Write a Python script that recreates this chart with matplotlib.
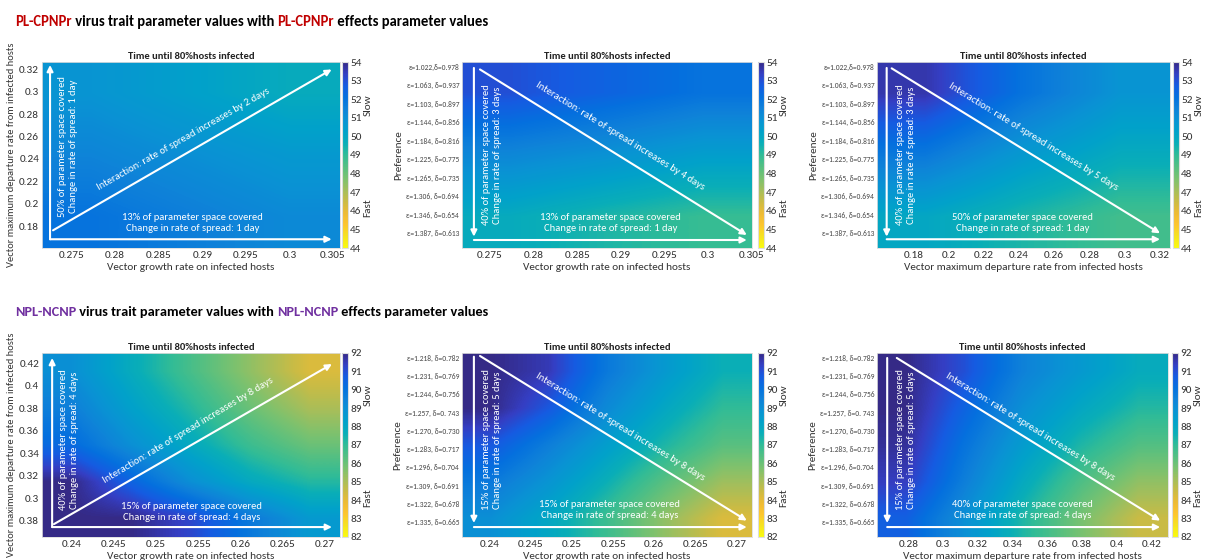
import numpy as np
import matplotlib
matplotlib.use("Agg")
from matplotlib import pyplot as plt
from matplotlib.colors import LinearSegmentedColormap
from matplotlib.transforms import offset_copy
from matplotlib import font_manager

W, H = 1208, 560

# ---- data ----
pref_top = ['ε=1.022,δ=0.978', 'ε=1.063, δ=0.937', 'ε=1.103, δ=0.897', 'ε=1.144, δ=0.856',
            'ε=1.184, δ=0.816', 'ε=1.225, δ=0.775', 'ε=1.265, δ=0.735', 'ε=1.306, δ=0.694',
            'ε=1.346, δ=0.654', 'ε=1.387, δ=0.613']
pref_bot = ['ε=1.218, δ=0.782', 'ε=1.231, δ=0.769', 'ε=1.244, δ=0.756', 'ε=1.257, δ=0. 743',
            'ε=1.270, δ=0.730', 'ε=1.283, δ=0.717', 'ε=1.296, δ=0.704', 'ε=1.309, δ=0.691',
            'ε=1.322, δ=0.678', 'ε=1.335, δ=0.665']

# axis ranges (x0, x1, y_bottom, y_top)
ext1 = [0.2716, 0.3058, 0.1604, 0.3265]
ext2 = [0.2718, 0.3050, 10.81, 0.75]
ext3 = [0.1594, 0.3257, 10.81, 0.75]
ext4 = [0.2365, 0.2718, 0.2655, 0.4290]
ext5 = [0.2366, 0.2719, 10.81, 0.75]
ext6 = [0.2620, 0.4294, 10.81, 0.75]

# time until 80% hosts infected (days), rows top -> bottom
time1 = [[50.8, 50.3, 49.8],
         [51.4, 51.0, 50.6],
         [52.0, 51.6, 51.2]]
time2 = [[53.0, 52.5, 52.0],
         [51.3, 50.9, 50.4],
         [49.8, 49.3, 48.9]]
time3 = [[53.6, 52.0, 50.8],
         [51.8, 50.6, 49.8],
         [50.0, 49.3, 48.7]]
time4 = [[89.0, 87.8, 86.6, 85.4, 84.2],
         [89.6, 88.3, 87.2, 86.0, 85.0],
         [90.3, 89.0, 87.9, 86.8, 86.0],
         [92.0, 90.5, 89.0, 87.9, 87.2],
         [92.0, 92.0, 91.2, 89.8, 88.6]]
time5 = [[92.0, 91.5, 89.8, 88.6, 87.6],
         [92.0, 90.8, 89.2, 88.0, 87.0],
         [90.8, 89.6, 88.4, 87.3, 86.3],
         [89.8, 88.8, 87.6, 86.3, 85.2],
         [89.0, 88.0, 86.8, 85.4, 84.2]]
time6 = [[92.0, 91.0, 89.5, 88.6, 87.8],
         [92.0, 90.5, 89.0, 88.0, 87.2],
         [91.8, 90.0, 88.5, 87.3, 86.4],
         [91.4, 89.6, 87.9, 86.5, 85.4],
         [90.6, 89.0, 87.3, 85.8, 84.5]]

xt1 = [0.275, 0.28, 0.285, 0.29, 0.295, 0.3, 0.305]
xt1_lab = ['0.275', '0.28', '0.285', '0.29', '0.295', '0.3', '0.305']
yt1 = [0.18, 0.2, 0.22, 0.24, 0.26, 0.28, 0.3, 0.32]
yt1_lab = ['0.18', '0.2', '0.22', '0.24', '0.26', '0.28', '0.3', '0.32']
xt3 = [0.18, 0.2, 0.22, 0.24, 0.26, 0.28, 0.3, 0.32]
xt3_lab = ['0.18', '0.2', '0.22', '0.24', '0.26', '0.28', '0.3', '0.32']
xt4 = [0.24, 0.245, 0.25, 0.255, 0.26, 0.265, 0.27]
xt4_lab = ['0.24', '0.245', '0.25', '0.255', '0.26', '0.265', '0.27']
yt4 = [0.28, 0.3, 0.32, 0.34, 0.36, 0.38, 0.4, 0.42]
yt4_lab = ['0.38', '0.3', '0.32', '0.34', '0.36', '0.38', '0.4', '0.42']
xt6 = [0.28, 0.3, 0.32, 0.34, 0.36, 0.38, 0.4, 0.42]
xt6_lab = ['0.28', '0.3', '0.32', '0.34', '0.36', '0.38', '0.4', '0.42']
cb_top = [44, 45, 46, 47, 48, 49, 50, 51, 52, 53, 54]
cb_bot = [82, 83, 84, 85, 86, 87, 88, 89, 90, 91, 92]

# parula-like colormap, reversed (slow = dark blue at top)
parula_pts = [(0.208, 0.166, 0.529), (0.205, 0.246, 0.767), (0.084, 0.358, 0.884),
              (0.018, 0.439, 0.871), (0.059, 0.508, 0.851), (0.037, 0.577, 0.830),
              (0.006, 0.634, 0.791), (0.037, 0.683, 0.720), (0.191, 0.736, 0.591),
              (0.330, 0.750, 0.510), (0.477, 0.761, 0.438), (0.637, 0.747, 0.361),
              (0.791, 0.735, 0.270), (0.928, 0.732, 0.207), (0.992, 0.772, 0.181),
              (0.965, 0.887, 0.124), (0.976, 0.983, 0.054)]
cmap = LinearSegmentedColormap.from_list('parula_r', parula_pts[::-1])

# Calibri look-alike if there is one
names = {f.name for f in font_manager.fontManager.ttflist}
if 'Carlito' in names:
    base = 'Carlito'
    k = 1.08
else:
    base = 'Lato'
    k = 1.0
plt.rcParams['font.family'] = [base, 'DejaVu Sans']
if 'Carlito' in names:
    head_font = ['Carlito', 'DejaVu Sans']
elif 'Open Sans Condensed' in names:
    head_font = ['Open Sans Condensed', 'DejaVu Sans']
else:
    head_font = ['Lato', 'DejaVu Sans']

fig = plt.figure(figsize=(W / 100, H / 100), dpi=100)


def rect(x0, x1, y0, y1):
    return [x0 / W, 1 - y1 / H, (x1 - x0) / W, (y1 - y0) / H]


def heading(y_px, parts, width_px=473):
    r = fig.canvas.get_renderer()

    def draw(size):
        x = 15 / W
        arts = []
        for s, c in parts:
            t = fig.text(x, 1 - y_px / H, s, color=c, fontsize=size, fontweight='bold',
                         family=head_font, ha='left', va='center')
            arts.append(t)
            x = t.get_window_extent(r).x1 / fig.bbox.width
        return arts, x * W - 15

    arts, wd = draw(14)
    for t in arts:
        t.remove()
    draw(min(16, 14 * width_px / wd))


def panel(box, cbox, data, ext, vmin, vmax, cbt, xt, xtl, yt, ytl, xlab, ylab, cat):
    ax = fig.add_axes(rect(*box))
    im = ax.imshow(np.array(data), cmap=cmap, vmin=vmin, vmax=vmax, extent=ext,
                   aspect='auto', interpolation='bilinear', origin='upper')
    ax.set_xticks(xt)
    ax.set_xticklabels(xtl, fontsize=7.5 * k, color='#333333')
    ax.set_yticks(yt)
    if cat:
        ax.set_yticklabels(ytl, fontsize=5 * k, color='#444444')
    else:
        ax.set_yticklabels(ytl, fontsize=7.5 * k, color='#333333')
    ax.tick_params(length=0, pad=2)
    for s in ax.spines.values():
        s.set_color('#dddddd')
        s.set_linewidth(0.6)
    ax.set_xlabel(xlab, fontsize=7.5 * k, color='#333333', labelpad=2)
    ax.set_ylabel(ylab, fontsize=(7 if not cat else 7.5) * k, color='#333333', labelpad=2)
    ax.set_title('Time until 80%hosts infected', fontsize=7 * k, fontweight='bold',
                 color='#222222', pad=2)
    cax = fig.add_axes(rect(*cbox))
    cb = fig.colorbar(im, cax=cax, ticks=cbt)
    cb.outline.set_edgecolor('#dddddd')
    cax.tick_params(length=0, pad=1.5, labelsize=7.5 * k, labelcolor='#333333')
    tr = offset_copy(cax.transAxes, fig=fig, x=20, y=0, units='dots')
    cax.text(1, 0.77, 'Slow', transform=tr, rotation=90, fontsize=7.5 * k,
             color='#333333', ha='center', va='center')
    cax.text(1, 0.215, 'Fast', transform=tr, rotation=90, fontsize=7.5 * k,
             color='#333333', ha='center', va='center')
    return ax


def arrows(ax, segs):
    for (x0, y0), (x1, y1) in segs:
        ax.annotate('', xy=(x1, y1), xytext=(x0, y0), xycoords='axes fraction',
                    arrowprops=dict(arrowstyle='-|>', color='white', lw=1.5,
                                    mutation_scale=9, shrinkA=0, shrinkB=0))


def note(ax, x, y, s, rot):
    ax.text(x, y, s, transform=ax.transAxes, color='white', fontsize=7 * k, rotation=rot,
            rotation_mode='anchor', ha='center', va='center', linespacing=1.3)


xlab_g = 'Vector growth rate on infected hosts'
xlab_d = 'Vector maximum departure rate from infected hosts'
cats = [1, 2, 3, 4, 5, 6, 7, 8, 9, 10]

# ---- top row ----
heading(22, [('PL-CPNPr', '#c00000'), (' virus trait parameter values with ', 'black'),
             ('PL-CPNPr', '#c00000'), (' effects parameter values', 'black')])

a1 = panel((42, 340, 62, 248), (342, 348, 62, 248), time1, ext1, 44, 54, cb_top,
           xt1, xt1_lab, yt1, yt1_lab, xlab_g, xlab_d, False)
arrows(a1, [((0.027, 0.047), (0.972, 0.047)), ((0.027, 0.047), (0.027, 0.984)),
            ((0.037, 0.095), (0.972, 0.96))])
note(a1, 0.087, 0.545, '50% of parameter space covered\nChange in rate of spread: 1 day', 90)
note(a1, 0.506, 0.136, '13% of parameter space covered\nChange in rate of spread: 1 day', 0)
note(a1, 0.473, 0.585, 'Interaction: rate of spread increases by 2 days', 29.7)

a2 = panel((462, 752, 62, 248), (758, 764, 62, 248), time2, ext2, 44, 54, cb_top,
           xt1, xt1_lab, cats, pref_top, xlab_g, 'Preference', True)
arrows(a2, [((0.041, 0.968), (0.041, 0.061)), ((0.041, 0.043), (0.982, 0.043)),
            ((0.062, 0.96), (0.982, 0.07))])
note(a2, 0.103, 0.5, '40% of parameter space covered\nChange in rate of spread: 3 days', 90)
note(a2, 0.513, 0.134, '13% of parameter space covered\nChange in rate of spread: 1 day', 0)
note(a2, 0.545, 0.6, 'Interaction: rate of spread increases by 4 days', -31.8)

a3 = panel((877, 1170, 62, 248), (1173, 1179, 62, 248), time3, ext3, 44, 54, cb_top,
           xt3, xt3_lab, cats, pref_top, xlab_d, 'Preference', True)
arrows(a3, [((0.033, 0.968), (0.033, 0.061)), ((0.033, 0.047), (0.966, 0.047)),
            ((0.05, 0.966), (0.966, 0.079))])
note(a3, 0.1, 0.5, '40% of parameter space covered\nChange in rate of spread: 3 days', 90)
note(a3, 0.497, 0.136, '50% of parameter space covered\nChange in rate of spread: 1 day', 0)
note(a3, 0.532, 0.6, 'Interaction: rate of spread increases by 5 days', -31.6)

# ---- bottom row ----
heading(312, [('NPL-NCNP', '#7030a0'), (' virus trait parameter values with ', 'black'),
              ('NPL-NCNP', '#7030a0'), (' effects parameter values', 'black')])

a4 = panel((42, 340, 353, 537), (342, 348, 353, 537), time4, ext4, 82, 92, cb_bot,
           xt4, xt4_lab, yt4, yt4_lab, xlab_g, xlab_d, False)
arrows(a4, [((0.034, 0.054), (0.973, 0.054)), ((0.034, 0.054), (0.034, 0.973)),
            ((0.04, 0.07), (0.973, 0.94))])
note(a4, 0.09, 0.527, '40% of parameter space covered\nChange in rate of spread: 4 days', 90)
note(a4, 0.502, 0.136, '15% of parameter space covered\nChange in rate of spread: 4 days', 0)
note(a4, 0.49, 0.58, 'Interaction: rate of spread increases by 8 days', 31)

a5 = panel((462, 752, 353, 537), (758, 764, 353, 537), time5, ext5, 82, 92, cb_bot,
           xt4, xt4_lab, cats, pref_bot, xlab_g, 'Preference', True)
arrows(a5, [((0.041, 0.98), (0.041, 0.076)), ((0.041, 0.054), (0.982, 0.054)),
            ((0.062, 0.984), (0.982, 0.089))])
note(a5, 0.103, 0.527, '15% of parameter space covered\nChange in rate of spread: 5 days', 90)
note(a5, 0.51, 0.147, '15% of parameter space covered\nChange in rate of spread: 4 days', 0)
note(a5, 0.545, 0.6, 'Interaction: rate of spread increases by 8 days', -31.7)

a6 = panel((877, 1168, 353, 537), (1172, 1178, 353, 537), time6, ext6, 82, 92, cb_bot,
           xt6, xt6_lab, cats, pref_bot, xlab_d, 'Preference', True)
arrows(a6, [((0.035, 0.973), (0.035, 0.076)), ((0.035, 0.054), (0.973, 0.054)),
            ((0.068, 0.973), (0.973, 0.089))])
note(a6, 0.1, 0.527, '15% of parameter space covered\nChange in rate of spread: 5 days', 90)
note(a6, 0.5, 0.147, '40% of parameter space covered\nChange in rate of spread: 4 days', 0)
note(a6, 0.526, 0.6, 'Interaction: rate of spread increases by 8 days', -31.7)

fig.savefig('out.png', dpi=100, facecolor='white')
